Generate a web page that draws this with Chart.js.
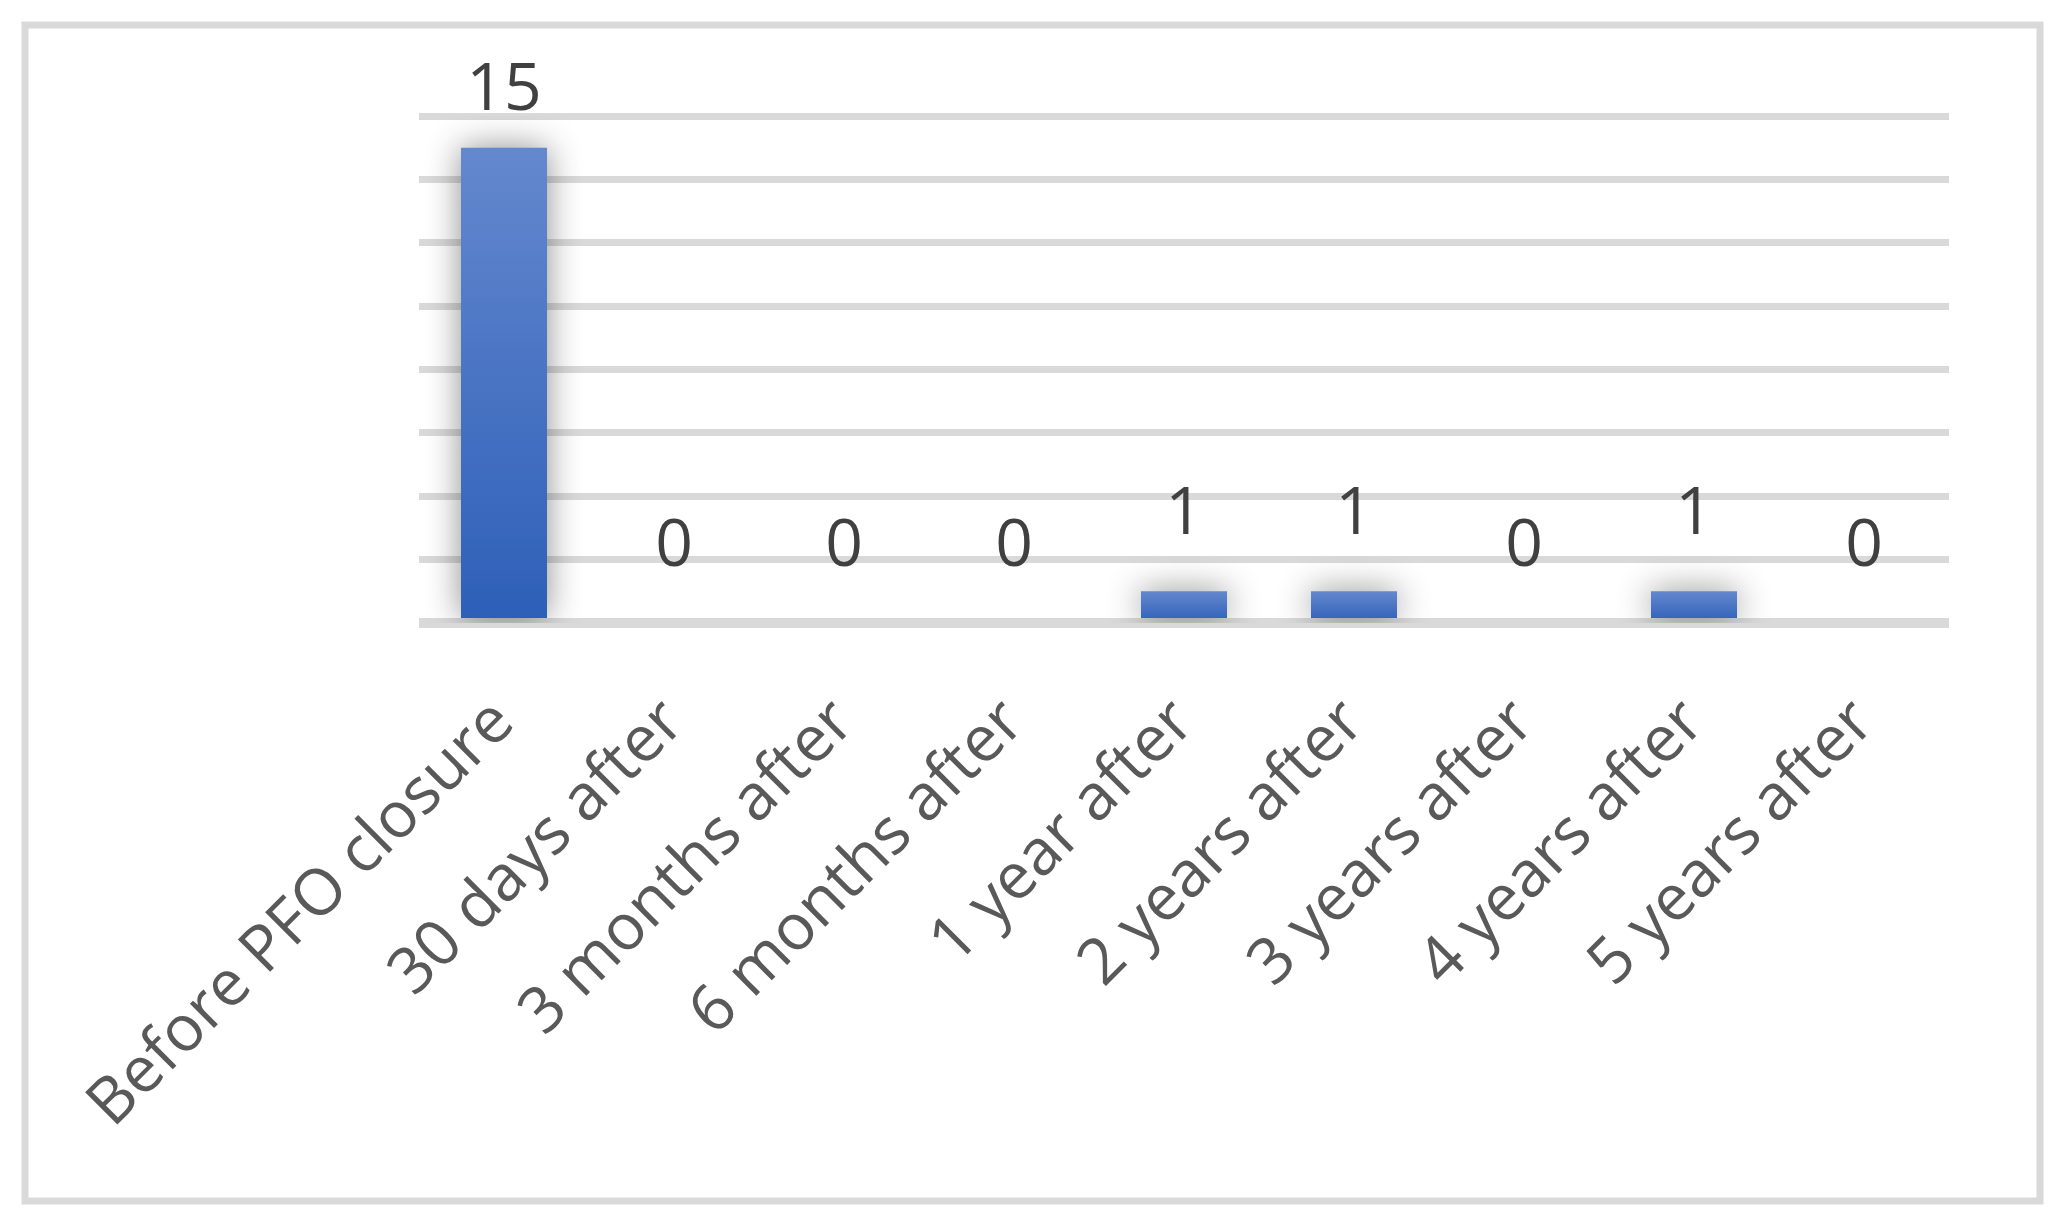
<!DOCTYPE html>
<html>
<head>
<meta charset="utf-8">
<title>PFO closure chart</title>
<script src="https://cdn.jsdelivr.net/npm/chart.js"></script>
<style>
  html, body { margin: 0; padding: 0; background: #ffffff; }
  #wrap { position: relative; width: 2062px; height: 1219px; }
</style>
</head>
<body>
<div id="wrap">
  <canvas id="bar-chart" width="2062" height="1219"></canvas>
</div>
<script>
  // data
  const categories = [
    'Before PFO closure',
    '30 days after',
    '3 months after',
    '6 months after',
    '1 year after',
    '2 years after',
    '3 years after',
    '4 years after',
    '5 years after',
  ];
  const counts = [15, 0, 0, 0, 1, 1, 0, 1, 0];
  const yTicks = [0, 2, 4, 6, 8, 10, 12, 14, 16];

  // outer frame around the whole figure
  const framePlugin = {
    id: 'frame',
    beforeDraw(chart) {
      const ctx = chart.ctx;
      ctx.save();
      ctx.fillStyle = '#ffffff';
      ctx.fillRect(0, 0, chart.width, chart.height);
      ctx.strokeStyle = '#d9d9d9';
      ctx.lineWidth = 7;
      ctx.strokeRect(25, 25, 2015, 1176);
      ctx.restore();
    },
  };

  // soft shadow round the bars
  const shadowPlugin = {
    id: 'barShadow',
    beforeDatasetsDraw(chart) {
      const ctx = chart.ctx;
      ctx.save();
      ctx.shadowColor = 'rgba(0, 0, 0, 0.45)';
      ctx.shadowBlur = 34;
      ctx.shadowOffsetX = 0;
      ctx.shadowOffsetY = 0;
    },
    afterDatasetsDraw(chart) {
      chart.ctx.restore();
    },
  };

  // value labels above the bars
  const valueLabels = {
    id: 'valueLabels',
    afterDatasetsDraw(chart) {
      const ctx = chart.ctx;
      const meta = chart.getDatasetMeta(0);
      ctx.save();
      ctx.font = '66px "Open Sans"';
      ctx.fillStyle = '#404040';
      ctx.textAlign = 'center';
      ctx.textBaseline = 'alphabetic';
      meta.data.forEach((bar, i) => {
        const y = Math.max(bar.y - 57, chart.chartArea.top - 6);
        ctx.fillText(String(counts[i]), bar.x, y);
      });
      ctx.restore();
    },
  };

  function barGradient(context) {
    const chart = context.chart;
    if (!chart.chartArea || context.type !== 'data') return '#4470c4';
    const yScale = chart.scales.y;
    const v = counts[context.dataIndex];
    const top = yScale.getPixelForValue(v);
    const bottom = yScale.getPixelForValue(0);
    if (bottom - top < 1) return '#4470c4';
    const g = chart.ctx.createLinearGradient(0, top, 0, bottom);
    g.addColorStop(0, '#6488ce');
    g.addColorStop(1, '#2d5fb8');
    return g;
  }

  const ctx = document.getElementById('bar-chart').getContext('2d');
  new Chart(ctx, {
    type: 'bar',
    data: {
      labels: categories,
      datasets: [
        {
          label: 'Count',
          data: counts,
          backgroundColor: barGradient,
          borderWidth: 0,
          barPercentage: 0.506,
          categoryPercentage: 1,
        },
      ],
    },
    options: {
      responsive: false,
      animation: false,
      events: [],
      layout: {
        padding: { left: 419, right: 113, top: 116, bottom: 0 },
      },
      plugins: {
        legend: { display: false },
        tooltip: { enabled: false },
      },
      scales: {
        x: {
          grid: { display: false },
          border: { display: false },
          afterFit(scale) {
            scale.height = 1219 - 623;
          },
          ticks: {
            minRotation: 45,
            maxRotation: 45,
            padding: 54,
            color: '#595959',
            font: { family: '"Open Sans"', size: 64, weight: 500 },
          },
        },
        y: {
          min: 0,
          max: 16,
          afterBuildTicks(scale) {
            scale.ticks = yTicks.map(v => ({ value: v }));
          },
          afterFit(scale) {
            scale.width = 0;
          },
          ticks: { display: false },
          border: { display: false },
          grid: {
            color: '#d9d9d9',
            drawTicks: false,
            lineWidth: c => (c.tick && c.tick.value === 0 ? 10 : 7),
          },
        },
      },
    },
    plugins: [framePlugin, shadowPlugin, valueLabels],
  });
</script>
</body>
</html>
